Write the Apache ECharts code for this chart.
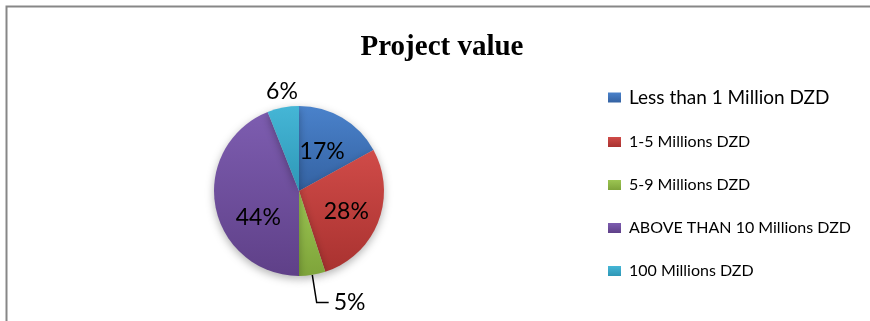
<!DOCTYPE html>
<html>
<head>
<meta charset="utf-8">
<script src="https://cdn.jsdelivr.net/npm/echarts@6/dist/echarts.min.js"></script>
<style>
  html, body { margin: 0; padding: 0; background: #ffffff; }
  #chart { width: 870px; height: 321px; }
</style>
</head>
<body>
<div id="chart"></div>
<script>
// Share of projects by contract value (percent)
const categories = [
  'Less than 1 Million DZD',
  '1-5 Millions DZD',
  '5-9 Millions DZD',
  'ABOVE THAN 10 Millions DZD',
  '100 Millions DZD'
];
const shares = [17, 28, 5, 44, 6];

// light / dark shade for each slice
const sliceLight = ['#4a82cb', '#d04b48', '#9cc552', '#7d5db0', '#45b6d6'];
const sliceDark  = ['#3462a2', '#a93230', '#7ea43a', '#5f4088', '#2e97b6'];

function shade(i) {
  return new echarts.graphic.LinearGradient(0, 0, 0, 1, [
    { offset: 0, color: sliceLight[i] },
    { offset: 1, color: sliceDark[i] }
  ]);
}

// slices labelled outside the pie
const outsideIdx = [2, 4];

// small nudges of the percentage labels from their default anchor
const labelNudge = {
  1: { dx: 5, dy: 4 },
  3: { dx: 4, dy: 18 },
  4: { dx: 37, dy: 12 }
};

const chart = echarts.init(document.getElementById('chart'), null, { renderer: 'canvas' });

const pieData = categories.map((name, i) => {
  const outside = outsideIdx.includes(i);
  return {
    name: name,
    value: shares[i],
    itemStyle: { color: shade(i) },
    label: { position: outside ? 'outside' : 'inside' },
    labelLine: { show: i === 2 }
  };
});

const legendData = categories.map((name, i) => ({
  name: name,
  itemStyle: { color: shade(i) },
  textStyle: i === 0 ? { fontSize: 19, lineHeight: 18 } : { fontSize: 16, lineHeight: 14 }
}));

chart.setOption({
  backgroundColor: '#ffffff',
  animation: false,
  title: {
    text: 'Project value',
    left: 437,
    top: 28,
    textAlign: 'center',
    textStyle: {
      fontFamily: '"Liberation Serif", "Times New Roman", serif',
      fontWeight: 'bold',
      fontSize: 29,
      color: '#000000'
    }
  },
  legend: {
    orient: 'vertical',
    left: 603,
    top: 83,
    itemWidth: 13,
    itemHeight: 10,
    itemGap: 27,
    icon: 'rect',
    selectedMode: false,
    data: legendData,
    textStyle: {
      fontFamily: 'Lato, "Open Sans", sans-serif',
      color: '#000000',
      padding: [0, 0, 0, 3]
    }
  },
  graphic: [{
    type: 'rect',
    left: 4,
    top: 4,
    shape: { width: 1000, height: 500 },
    style: { fill: 'none', stroke: '#878787', lineWidth: 2 },
    silent: true
  }],
  series: [{
    type: 'pie',
    center: [299, 191],
    radius: 85,
    startAngle: 90,
    clockwise: true,
    avoidLabelOverlap: false,
    legendHoverLink: false,
    itemStyle: {
      borderWidth: 0,
      shadowBlur: 8,
      shadowOffsetY: 3,
      shadowColor: 'rgba(0,0,0,0.30)'
    },
    label: {
      show: true,
      formatter: '{d}%',
      fontFamily: 'Lato, "Open Sans", sans-serif',
      fontSize: 23,
      color: '#000000'
    },
    labelLine: {
      show: true,
      length: 28,
      length2: 12,
      smooth: false,
      lineStyle: { color: '#000000', width: 1.5 }
    },
    labelLayout: function (params) {
      return labelNudge[params.dataIndex] || {};
    },
    data: pieData
  }]
});
</script>
</body>
</html>
